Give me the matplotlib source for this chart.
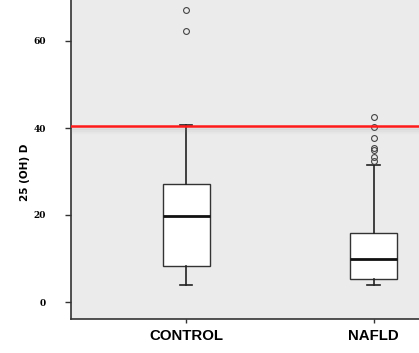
import matplotlib
matplotlib.use("Agg")
import matplotlib.pyplot as plt

categories = ["CONTROL", "NAFLD"]
q1 = [8.3, 5.4]
median = [19.8, 9.8]
q3 = [27.2, 15.9]
whisker_low = [4.0, 3.9]
whisker_high = [40.6, 31.4]
outliers = [[67.1, 62.2], [42.6, 40.3, 37.8, 35.3, 34.9, 33.4, 32.3]]
reference_line = 40.5
yticks = [0, 20, 40, 60]

W, H = 419, 353
fig = plt.figure(figsize=(W / 100, H / 100), dpi=100)
left_px, bottom_px, right_px, top_px = 71, 319, 430, -10
ax = fig.add_axes([left_px / W, 1 - bottom_px / H,
                   (right_px - left_px) / W, (bottom_px - top_px) / H])
ax.set_facecolor("#ebebeb")

stats = []
for i, c in enumerate(categories):
    stats.append(dict(label=c, q1=q1[i], med=median[i], q3=q3[i],
                      whislo=whisker_low[i], whishi=whisker_high[i],
                      fliers=outliers[i]))
positions = list(range(len(categories)))
ax.bxp(stats, positions=positions, widths=0.25, patch_artist=True,
       boxprops=dict(facecolor="white", edgecolor="#333333", linewidth=1.0),
       medianprops=dict(color="#111111", linewidth=2.0),
       whiskerprops=dict(color="#222222", linewidth=1.2),
       capprops=dict(color="#222222", linewidth=1.2),
       capwidths=0.065,
       flierprops=dict(marker="o", markersize=4.2, markerfacecolor="none",
                       markeredgecolor="#444444", markeredgewidth=0.8))

# shadow + red reference line
for k, a in zip([0.6, 1.0, 1.4], [0.10, 0.07, 0.04]):
    ax.axhline(reference_line - k, color="#888888", lw=2.5, alpha=a, zorder=4)
ax.axhline(reference_line, color="#ff1a1a", lw=1.8, zorder=5)

px_per_unit = 187.2
x0_px = 186.3
ax.set_xlim((left_px - x0_px) / px_per_unit, (right_px - x0_px) / px_per_unit)
ypx = 4.35
ax.set_ylim(-(bottom_px - 302) / ypx, (302 - top_px) / ypx)

ax.set_xticks(positions)
ax.set_xticklabels(categories, fontsize=10.8, fontweight="bold",
                   family="Liberation Sans")
ax.set_yticks(yticks)
ax.set_yticklabels([str(t) for t in yticks], fontsize=6.5, fontweight="bold",
                   family="DejaVu Serif")
ax.tick_params(axis="y", length=4.3, width=1.0, pad=14, color="#333333")
ax.tick_params(axis="x", length=3, width=1.0, pad=4, color="#333333")
for s in ["top", "right"]:
    ax.spines[s].set_visible(False)
for s in ["left", "bottom"]:
    ax.spines[s].set_color("#333333")
    ax.spines[s].set_linewidth(1.2)

fig.text(25 / W, 1 - 172 / H, "25 (OH) D", rotation=90, ha="center",
         va="center", fontsize=7.5, fontweight="bold", family="DejaVu Sans")

fig.savefig("out.png", dpi=100)
